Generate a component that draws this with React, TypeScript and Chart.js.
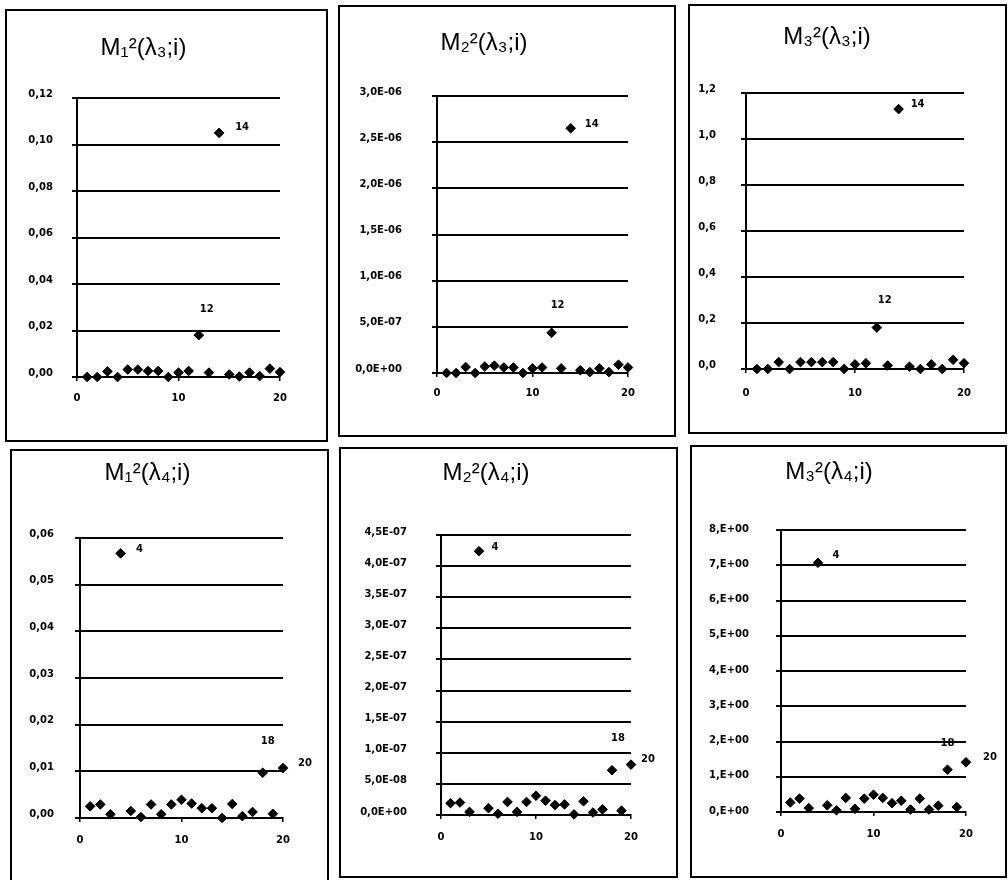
import React, { useEffect, useRef } from "react";
import { Chart, registerables } from "chart.js";

Chart.register(...registerables);

// ---------- DATA ----------
const indexI = [1, 2, 3, 4, 5, 6, 7, 8, 9, 10, 11, 12, 13, 14, 15, 16, 17, 18, 19, 20];

const m1Lambda3 = [0, 0, 0.0024, 0, 0.0032, 0.0032, 0.0026, 0.0026, 0, 0.0019, 0.0026, 0.018, 0.0019, 0.105, 0.0011, 0.0002, 0.0019, 0.0004, 0.0036, 0.0021];
const m2Lambda3 = [0, 0, 0.065e-6, 0, 0.07e-6, 0.08e-6, 0.06e-6, 0.06e-6, 0, 0.05e-6, 0.06e-6, 0.435e-6, 0.05e-6, 2.65e-6, 0.03e-6, 0.01e-6, 0.05e-6, 0.01e-6, 0.09e-6, 0.06e-6];
const m3Lambda3 = [0, 0, 0.03, 0, 0.03, 0.03, 0.03, 0.03, 0, 0.02, 0.025, 0.18, 0.015, 1.13, 0.01, 0, 0.02, 0, 0.04, 0.025];
const m1Lambda4 = [0.0025, 0.0029, 0.0008, 0.0567, 0.0015, 0.0002, 0.0029, 0.0008, 0.0029, 0.0039, 0.0031, 0.0021, 0.0021, 0, 0.003, 0.0004, 0.0013, 0.0097, 0.0009, 0.0107];
const m2Lambda4 = [0.19e-7, 0.2e-7, 0.05e-7, 4.24e-7, 0.11e-7, 0.02e-7, 0.21e-7, 0.05e-7, 0.21e-7, 0.31e-7, 0.23e-7, 0.16e-7, 0.17e-7, 0.01e-7, 0.22e-7, 0.04e-7, 0.09e-7, 0.72e-7, 0.07e-7, 0.81e-7];
const m3Lambda4 = [0.27, 0.38, 0.11, 7.07, 0.19, 0.05, 0.4, 0.09, 0.38, 0.49, 0.4, 0.25, 0.32, 0.07, 0.38, 0.07, 0.18, 1.2, 0.14, 1.41];

const xTickValues = [0, 10, 20];
const xTickLabels = ["0", "10", "20"];

const yTicksM1L3 = [0, 0.02, 0.04, 0.06, 0.08, 0.1, 0.12];
const yLabelsM1L3 = ["0,00", "0,02", "0,04", "0,06", "0,08", "0,10", "0,12"];
const yTicksM2L3 = [0, 0.5e-6, 1e-6, 1.5e-6, 2e-6, 2.5e-6, 3e-6];
const yLabelsM2L3 = ["0,0E+00", "5,0E-07", "1,0E-06", "1,5E-06", "2,0E-06", "2,5E-06", "3,0E-06"];
const yTicksM3L3 = [0, 0.2, 0.4, 0.6, 0.8, 1.0, 1.2];
const yLabelsM3L3 = ["0,0", "0,2", "0,4", "0,6", "0,8", "1,0", "1,2"];
const yTicksM1L4 = [0, 0.01, 0.02, 0.03, 0.04, 0.05, 0.06];
const yLabelsM1L4 = ["0,00", "0,01", "0,02", "0,03", "0,04", "0,05", "0,06"];
const yTicksM2L4 = [0, 0.5e-7, 1e-7, 1.5e-7, 2e-7, 2.5e-7, 3e-7, 3.5e-7, 4e-7, 4.5e-7];
const yLabelsM2L4 = ["0,0E+00", "5,0E-08", "1,0E-07", "1,5E-07", "2,0E-07", "2,5E-07", "3,0E-07", "3,5E-07", "4,0E-07", "4,5E-07"];
const yTicksM3L4 = [0, 1, 2, 3, 4, 5, 6, 7, 8];
const yLabelsM3L4 = ["0,E+00", "1,E+00", "2,E+00", "3,E+00", "4,E+00", "5,E+00", "6,E+00", "7,E+00", "8,E+00"];

const titles = ["M₁²(λ₃;i)", "M₂²(λ₃;i)", "M₃²(λ₃;i)", "M₁²(λ₄;i)", "M₂²(λ₄;i)", "M₃²(λ₄;i)"];

// ---------- PANEL LAYOUT (page px) ----------
type Note = { i: number; text: string; dx: number; dy: number };
type Panel = {
  title: string; values: number[]; yTicks: number[]; yLabels: string[];
  box: [number, number, number, number]; // left, top, right, bottom
  axisX: number; x20: number; yTop: number; y0: number; titleY: number;
  labelPad: number; labelOffset: number; xLabelY: number; notes: Note[];
};

const panels: Panel[] = [
  { title: titles[0], values: m1Lambda3, yTicks: yTicksM1L3, yLabels: yLabelsM1L3,
    box: [5, 9, 328, 442], axisX: 77, x20: 280, yTop: 98, y0: 377, titleY: 48,
    labelPad: 19, labelOffset: -4, xLabelY: 398,
    notes: [{ i: 14, text: "14", dx: 23, dy: -5 }, { i: 12, text: "12", dx: 8, dy: -26 }] },
  { title: titles[1], values: m2Lambda3, yTicks: yTicksM2L3, yLabels: yLabelsM2L3,
    box: [338, 5, 676, 437], axisX: 437, x20: 628, yTop: 96, y0: 373, titleY: 43,
    labelPad: 30, labelOffset: -4, xLabelY: 393,
    notes: [{ i: 14, text: "14", dx: 21, dy: -4 }, { i: 12, text: "12", dx: 6, dy: -27 }] },
  { title: titles[2], values: m3Lambda3, yTicks: yTicksM3L3, yLabels: yLabelsM3L3,
    box: [688, 4, 1007, 434], axisX: 746, x20: 964, yTop: 93, y0: 369, titleY: 37,
    labelPad: 25, labelOffset: -4, xLabelY: 393,
    notes: [{ i: 14, text: "14", dx: 19, dy: -5 }, { i: 12, text: "12", dx: 8, dy: -27 }] },
  { title: titles[3], values: m1Lambda4, yTicks: yTicksM1L4, yLabels: yLabelsM1L4,
    box: [10, 449, 329, 884], axisX: 80, x20: 283, yTop: 538, y0: 818, titleY: 473,
    labelPad: 21, labelOffset: -4, xLabelY: 840,
    notes: [{ i: 4, text: "4", dx: 19, dy: -4 }, { i: 18, text: "18", dx: 5, dy: -31 }, { i: 20, text: "20", dx: 22, dy: -5 }] },
  { title: titles[4], values: m2Lambda4, yTicks: yTicksM2L4, yLabels: yLabelsM2L4,
    box: [339, 447, 678, 878], axisX: 441, x20: 631, yTop: 535, y0: 815, titleY: 473,
    labelPad: 29, labelOffset: -3, xLabelY: 837,
    notes: [{ i: 4, text: "4", dx: 16, dy: -4 }, { i: 18, text: "18", dx: 6, dy: -32 }, { i: 20, text: "20", dx: 17, dy: -5 }] },
  { title: titles[5], values: m3Lambda4, yTicks: yTicksM3L4, yLabels: yLabelsM3L4,
    box: [690, 445, 1007, 878], axisX: 781, x20: 966, yTop: 530, y0: 812, titleY: 472,
    labelPad: 27, labelOffset: -1, xLabelY: 834,
    notes: [{ i: 4, text: "4", dx: 18, dy: -7 }, { i: 18, text: "18", dx: 0, dy: -26 }, { i: 20, text: "20", dx: 24, dy: -5 }] },
];

const BORDER = 2;
const TICK_FONT = { family: "'DejaVu Sans', Arial, sans-serif", size: 10, weight: "bold" as const };
const TITLE_SIZE = 24;

const noteLabels = {
  id: "noteLabels",
  afterDatasetsDraw(chart: any, _args: any, opts: any) {
    const notes: Note[] = opts.notes || [];
    const meta = chart.getDatasetMeta(0);
    const ctx = chart.ctx;
    ctx.save();
    ctx.fillStyle = "#000";
    ctx.font = "bold 10px 'DejaVu Sans', Arial, sans-serif";
    ctx.textAlign = "center";
    ctx.textBaseline = "middle";
    for (const n of notes) {
      const el = meta.data[n.i - 1];
      if (!el) continue;
      ctx.fillText(n.text, el.x + n.dx, el.y + n.dy);
    }
    ctx.restore();
  },
};

function PanelChart({ p }: { p: Panel }) {
  const ref = useRef<HTMLCanvasElement | null>(null);
  const [L, T, R, B] = p.box;
  const W = R - L;
  const H = B - T;
  const cw = W - 2 * BORDER;
  const ch = H - 2 * BORDER;
  const ox = L + BORDER;
  const oy = T + BORDER;

  useEffect(() => {
    if (!ref.current) return;
    const lineH = TITLE_SIZE * 1.2;
    const titleCenter = p.titleY - oy;
    const areaTop = p.yTop - oy;
    const areaLeft = p.axisX - ox;
    const areaRight = p.x20 - ox;
    const areaBottom = p.y0 - oy;
    const xLabelCenter = p.xLabelY - p.y0;
    const xTickLen = 4;
    const chart = new Chart(ref.current, {
      type: "scatter",
      data: {
        datasets: [{
          data: indexI.map((x, k) => ({ x, y: p.values[k] })),
          pointStyle: "rectRot",
          pointRadius: 4.8,
          backgroundColor: "#000",
          borderColor: "#000",
          borderWidth: 1,
          clip: false as any,
        }],
      },
      options: {
        animation: false,
        responsive: false,
        maintainAspectRatio: false,
        events: [],
        layout: { padding: { top: 0, left: 0, right: cw - areaRight, bottom: 0 } },
        plugins: {
          legend: { display: false },
          tooltip: { enabled: false },
          title: {
            display: true,
            text: p.title,
            color: "#000",
            font: { family: "'Liberation Sans', Arial, sans-serif", size: TITLE_SIZE, weight: "normal" as any, lineHeight: 1.2 },
            padding: { top: titleCenter - lineH / 2, bottom: areaTop - titleCenter - lineH / 2 },
          },
          noteLabels: { notes: p.notes },
        } as any,
        scales: {
          x: {
            type: "linear",
            min: 0,
            max: 20,
            afterBuildTicks: (s: any) => { s.ticks = xTickValues.map((v) => ({ value: v })); },
            afterFit: (s: any) => { s.height = ch - areaBottom; },
            ticks: {
              color: "#000",
              font: TICK_FONT,
              padding: xLabelCenter - xTickLen - 6,
              maxRotation: 0,
              autoSkip: false,
              callback: (_v: any, idx: number) => xTickLabels[idx],
            },
            grid: { drawOnChartArea: false, drawTicks: true, tickLength: xTickLen, color: "#000", lineWidth: 1.5 },
            border: { display: true, color: "#000", width: 2 },
          },
          y: {
            type: "linear",
            min: p.yTicks[0],
            max: p.yTicks[p.yTicks.length - 1],
            afterBuildTicks: (s: any) => { s.ticks = p.yTicks.map((v) => ({ value: v })); },
            afterFit: (s: any) => { s.width = areaLeft; },
            ticks: {
              color: "#000",
              font: TICK_FONT,
              padding: p.labelPad,
              labelOffset: p.labelOffset,
              autoSkip: false,
              callback: (_v: any, idx: number) => p.yLabels[idx],
            },
            grid: { color: "#000", lineWidth: 2, drawTicks: true, tickLength: 5 },
            border: { display: true, color: "#000", width: 2 },
          },
        },
      },
      plugins: [noteLabels],
    } as any);
    return () => chart.destroy();
  }, []);

  return (
    <div
      style={{
        position: "absolute",
        left: L,
        top: T,
        width: W,
        height: H,
        border: `${BORDER}px solid #000`,
        boxSizing: "border-box",
        background: "#fff",
      }}
    >
      <canvas ref={ref} width={cw} height={ch} style={{ display: "block", width: cw, height: ch }} />
    </div>
  );
}

export default function App() {
  return (
    <div style={{ position: "absolute", left: 0, top: 0, width: 1008, height: 880, overflow: "hidden", background: "#fff" }}>
      {panels.map((p, k) => (
        <PanelChart key={k} p={p} />
      ))}
    </div>
  );
}
